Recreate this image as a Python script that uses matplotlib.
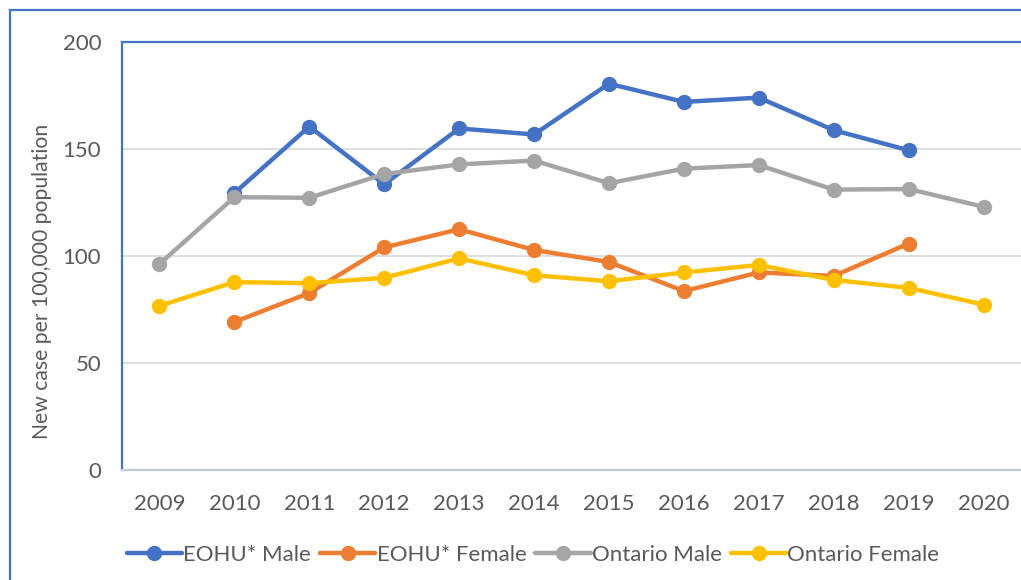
import matplotlib
matplotlib.use("Agg")
import matplotlib.pyplot as plt
from matplotlib.lines import Line2D

years = ["2009", "2010", "2011", "2012", "2013", "2014", "2015", "2016", "2017", "2018", "2019", "2020"]
eohu_male = [None, 129.4, 160.5, 133.5, 159.6, 156.8, 180.5, 172.0, 174.0, 158.8, 149.4, None]
eohu_female = [None, 69.2, 82.7, 104.0, 112.5, 102.8, 97.2, 83.6, 92.3, 90.7, 105.8, None]
ontario_male = [96.3, 127.5, 127.2, 138.3, 142.8, 144.6, 134.0, 140.8, 142.5, 131.0, 131.3, 123.0]
ontario_female = [76.7, 87.8, 87.3, 89.8, 98.9, 91.0, 88.2, 92.3, 95.8, 88.8, 85.1, 77.3]
series_names = ["EOHU* Male", "EOHU* Female", "Ontario Male", "Ontario Female"]
colors = ["#4472C4", "#ED7D31", "#A5A5A5", "#FFC000"]

plt.rcParams['font.family'] = ['Lato', 'DejaVu Sans']
text_color = "#595959"
fs = 16

fig = plt.figure(figsize=(10.21, 5.80), dpi=100)
ax = fig.add_axes([122/1021, 1 - 470/580, 1 - 122/1021, 428/580])

xs = list(range(len(years)))
for vals, name, c in zip([eohu_male, eohu_female, ontario_male, ontario_female], series_names, colors):
    px = [x for x, v in zip(xs, vals) if v is not None]
    py = [v for v in vals if v is not None]
    ax.plot(px, py, color=c, lw=3.2, marker='o', markersize=10, label=name,
            solid_capstyle='round', zorder=3)

ax.set_xlim(-0.5, len(years) - 0.5)
ax.set_ylim(0, 200)
ax.set_yticks([0, 50, 100, 150, 200])
ax.set_xticks(xs)
ax.set_xticklabels(years)
ax.grid(axis='y', color='#D9D9D9', lw=1.2, zorder=0)
ax.set_axisbelow(True)
ax.tick_params(axis='both', length=0, labelsize=fs, labelcolor=text_color)
ax.tick_params(axis='y', pad=15)
ax.tick_params(axis='x', pad=17)
for s in ['left', 'top']:
    ax.spines[s].set_color('#4472C4')
    ax.spines[s].set_linewidth(1.6)
ax.spines['right'].set_visible(False)
ax.spines['bottom'].set_color('#C3C8D4')
ax.spines['bottom'].set_linewidth(1.6)
ax.set_ylabel("New case per 100,000 population", fontsize=15.2, color=text_color)
ax.yaxis.set_label_coords((42 - 122) / 899, (470 - 281) / 428)
ax.yaxis.label.set_verticalalignment('center')

# outer chart border
fig.add_artist(Line2D([9.5/1021, 9.5/1021], [0, 1 - 9.5/580], color='#4472C4', lw=1.6, transform=fig.transFigure))
fig.add_artist(Line2D([9.5/1021, 1], [1 - 9.5/580, 1 - 9.5/580], color='#4472C4', lw=1.6, transform=fig.transFigure))

handles, labels = ax.get_legend_handles_labels()
fig.legend(handles, labels, loc='center', bbox_to_anchor=(533/1021, 1 - 555/580), ncol=4,
           frameon=False, fontsize=fs, labelcolor=text_color, handlelength=2.5,
           handletextpad=0.05, columnspacing=0.4, borderpad=0)

fig.savefig("out.png", dpi=100)
